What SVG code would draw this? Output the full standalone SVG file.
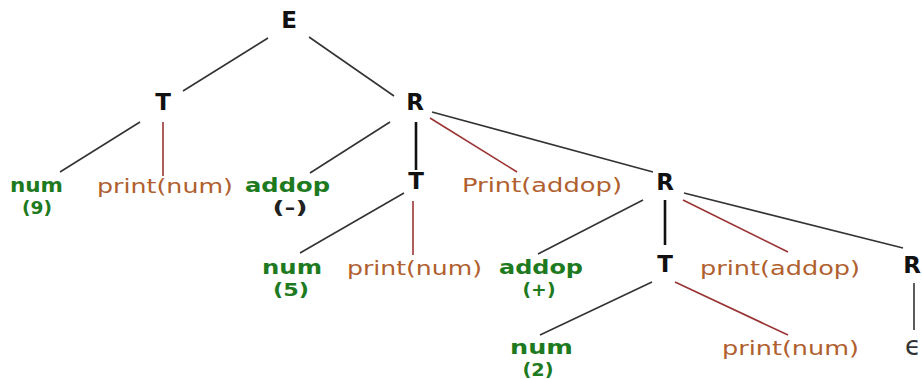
<svg xmlns="http://www.w3.org/2000/svg" width="922" height="379" viewBox="0 0 922 379">
<style>
.nt{font-family:"DejaVu Sans",sans-serif;font-weight:bold;font-size:23px;fill:#111;text-anchor:middle}
.tok{font-family:"DejaVu Sans",sans-serif;font-weight:bold;font-size:19px;fill:#1e7a1e}
.val{font-family:"DejaVu Sans",sans-serif;font-weight:bold;font-size:17px;fill:#1e7a1e;text-anchor:middle}
.act{font-family:"DejaVu Sans",sans-serif;font-size:19px;fill:#b0602e}
.blk{stroke:#333;stroke-width:1.6;fill:none}
.vb{stroke:#111;stroke-width:2.6;fill:none}
.red{stroke:#9a3434;stroke-width:1.6;fill:none}
</style>
<rect width="922" height="379" fill="#fff"/>
<g id="connectors">
<line class="blk" x1="268" y1="38" x2="183" y2="91"/>
<line class="blk" x1="309" y1="37" x2="394" y2="96"/>
<line class="blk" x1="140" y1="122" x2="60" y2="172"/>
<line class="red" x1="163" y1="122" x2="163" y2="176"/>
<line class="blk" x1="390" y1="122" x2="310" y2="173"/>
<line class="vb" x1="416" y1="122" x2="416" y2="170"/>
<line class="red" x1="430" y1="118" x2="517" y2="172"/>
<line class="blk" x1="432" y1="112" x2="653" y2="172"/>
<line class="blk" x1="404" y1="193" x2="300" y2="253"/>
<line class="red" x1="413" y1="201" x2="413" y2="255"/>
<line class="blk" x1="643" y1="200" x2="538" y2="254"/>
<line class="vb" x1="665" y1="200" x2="665" y2="245"/>
<line class="red" x1="683" y1="200" x2="788" y2="252"/>
<line class="blk" x1="684" y1="193" x2="903" y2="248"/>
<line class="blk" x1="652" y1="282" x2="540" y2="335"/>
<line class="red" x1="675" y1="282" x2="788" y2="335"/>
<line class="blk" x1="914" y1="283" x2="914" y2="330"/>
</g>
<g id="E"><text class="nt" x="289" y="28">E</text></g>
<g id="T1"><text class="nt" x="163" y="110">T</text></g>
<g id="R1"><text class="nt" x="415" y="110">R</text></g>
<g id="num9"><text class="tok" x="10" y="192" textLength="53" lengthAdjust="spacingAndGlyphs">num</text><text class="val" x="37" y="214" textLength="30" lengthAdjust="spacingAndGlyphs">(9)</text></g>
<g id="print1"><text class="act" x="97" y="193" textLength="136" lengthAdjust="spacingAndGlyphs">print(num)</text></g>
<g id="addop1"><text class="tok" x="245" y="192" textLength="85" lengthAdjust="spacingAndGlyphs">addop</text><text class="val" x="290" y="214" style="fill:#222" textLength="35" lengthAdjust="spacingAndGlyphs">(-)</text></g>
<g id="T2"><text class="nt" x="416" y="189">T</text></g>
<g id="printAddop1"><text class="act" x="462" y="192" textLength="160" lengthAdjust="spacingAndGlyphs">Print(addop)</text></g>
<g id="R2"><text class="nt" x="665" y="190">R</text></g>
<g id="num5"><text class="tok" x="262" y="274" textLength="60" lengthAdjust="spacingAndGlyphs">num</text><text class="val" x="291" y="296" textLength="36" lengthAdjust="spacingAndGlyphs">(5)</text></g>
<g id="print2"><text class="act" x="347" y="275" textLength="135" lengthAdjust="spacingAndGlyphs">print(num)</text></g>
<g id="addop2"><text class="tok" x="499" y="274" textLength="84" lengthAdjust="spacingAndGlyphs">addop</text><text class="val" x="539" y="296" textLength="33" lengthAdjust="spacingAndGlyphs">(+)</text></g>
<g id="T3"><text class="nt" x="665" y="272">T</text></g>
<g id="printAddop2"><text class="act" x="700" y="275" textLength="160" lengthAdjust="spacingAndGlyphs">print(addop)</text></g>
<g id="R3"><text class="nt" x="912" y="273">R</text></g>
<g id="num2"><text class="tok" x="510" y="354" textLength="63" lengthAdjust="spacingAndGlyphs">num</text><text class="val" x="538" y="376" textLength="31" lengthAdjust="spacingAndGlyphs">(2)</text></g>
<g id="print3"><text class="act" x="722" y="355" textLength="137" lengthAdjust="spacingAndGlyphs">print(num)</text></g>
<g id="eps"><text x="905" y="355" style="font-family:'DejaVu Sans',sans-serif;font-size:26px;fill:#333">ϵ</text></g>
</svg>
